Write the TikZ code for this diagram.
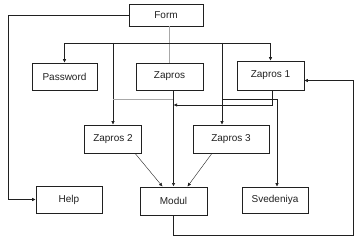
\documentclass[tikz,border=0pt]{standalone}
\usepackage{fontspec}
\setmainfont{Liberation Sans}
\usetikzlibrary{arrows.meta}
\begin{document}
\begin{tikzpicture}[x=1pt,y=-1pt,font=\fontsize{10}{12}\selectfont,
box/.style={draw=ink,line width=.6pt,inner sep=0pt,text=ink},
arr/.style={draw=ink,line width=.6pt,-{Latex[length=3.5pt,width=3.5pt]}},
ln/.style={draw=ink,line width=.6pt}]
\definecolor{ink}{HTML}{202020}\definecolor{lite}{HTML}{A8A8A8}
\useasboundingbox (0,0) rectangle (356,238);
% boxes
\node[box,minimum width=74pt,minimum height=22pt] (form) at (166,15) {Form};
\draw[ink,line width=1.1pt] (form.south west) -- (form.south east) -- (form.north east);
\node[box,minimum width=65pt,minimum height=27pt] (password) at (64.5,76.5) {Password};
\node[box,minimum width=67pt,minimum height=27pt] (zapros) at (169.5,76.5) {Zapros};
\node[box,minimum width=67pt,minimum height=29pt] (zapros1) at (270.5,75.5) {Zapros 1};
\node[box,minimum width=57pt,minimum height=28pt] (zapros2) at (113,139) {Zapros 2};
\node[box,minimum width=76pt,minimum height=28pt] (zapros3) at (231,139) {Zapros 3};
\node[box,minimum width=66pt,minimum height=27pt] (help) at (69,199.5) {Help};
\node[box,line width=1pt,minimum width=67pt,minimum height=28pt] (modul) at (173.5,201) {Modul};
\node[box,minimum width=66pt,minimum height=26pt] (svedeniya) at (275,200) {Svedeniya};
% bus
\coordinate (b2) at (113,43);\coordinate (b3) at (222,43);
\draw[lite,line width=.6pt] (zapros.north |- form.south) -- (zapros.north);
\draw[arr] (zapros.north |- b2) -| (password.north);
\draw[arr] (zapros.north |- b2) -| (zapros1.north);
\draw[arr] (form.west) -- ++(-120,0) |- (help.west);
\draw[arr] (b2) -- (zapros2.north);
\draw[arr] (b3) -- (b3 |- zapros3.north);
\draw[lite,line width=.6pt] (b2 |- 0,99) -- (modul.north |- 0,99);
\draw[arr] (b3 |- 0,99) -| ([xshift=2pt]svedeniya.north);
\draw[arr] (modul.north |- zapros.south) -- (modul.north);
\draw[arr] ([xshift=1.5pt]zapros1.south) |- (modul.north |- 0,105);
\draw[arr,line width=.4pt] ([xshift=22pt]zapros2.south) -- ([xshift=-11pt]modul.north);
\draw[arr,line width=.4pt] ([xshift=-19pt]zapros3.south) -- ([xshift=14pt]modul.north);
\draw[arr] (modul.south) |- (353,235) |- ([yshift=-5pt]zapros1.east);
\end{tikzpicture}
\end{document}
